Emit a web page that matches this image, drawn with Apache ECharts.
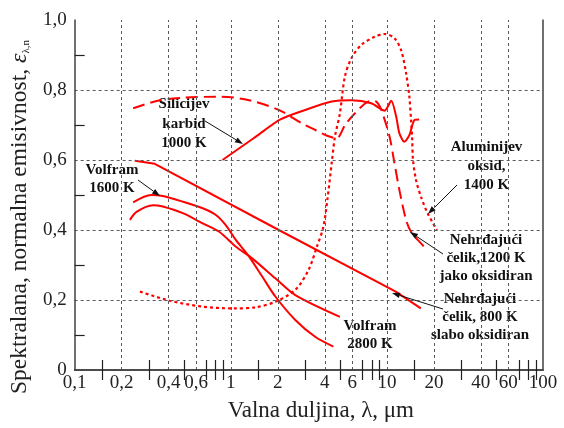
<!DOCTYPE html>
<html>
<head>
<meta charset="utf-8">
<script src="https://cdn.jsdelivr.net/npm/echarts@6/dist/echarts.min.js"></script>
<style>
  html, body { margin: 0; padding: 0; background: #fff; }
  #main { width: 564px; height: 428px; }
</style>
</head>
<body>
<div id="main"></div>
<script>
// valna duljina (um) i emisivnost, ocitano sa slike
var sicLam = [0.885, 1.4, 2.08, 3.0, 4.43, 5.93, 7.95, 9.66, 10.66, 11.47, 12.03, 12.95, 13.93, 14.99, 16.1];
var sicEps = [0.600, 0.662, 0.716, 0.743, 0.767, 0.771, 0.762, 0.741, 0.769, 0.724, 0.676, 0.652, 0.671, 0.714, 0.716];

var alLam = [0.262, 0.406, 0.661, 1.025, 1.44, 1.93, 2.59, 3.15, 3.56, 3.92, 4.18, 4.43, 4.65, 5.0, 5.38, 5.93, 6.87, 8.34, 9.66, 11.18, 12.33, 13.27, 13.93, 14.28, 14.5, 14.7, 15.37, 16.53, 18.23, 20.9];
var alEps = [0.224, 0.198, 0.181, 0.176, 0.179, 0.195, 0.229, 0.286, 0.352, 0.409, 0.495, 0.591, 0.667, 0.733, 0.838, 0.891, 0.929, 0.952, 0.960, 0.948, 0.914, 0.848, 0.781, 0.714, 0.667, 0.600, 0.543, 0.495, 0.448, 0.400];

var st1200Lam = [0.237, 0.351, 0.5, 0.843, 1.31, 2.03, 2.85, 3.5, 4.1, 4.76, 5.4, 6.23, 7.58, 8.34, 8.98, 9.53, 10.4, 11.18, 12.03, 13.27, 14.28, 16.53, 18.23];
var st1200Eps = [0.748, 0.771, 0.778, 0.781, 0.771, 0.743, 0.705, 0.685, 0.670, 0.662, 0.700, 0.733, 0.767, 0.769, 0.754, 0.724, 0.667, 0.591, 0.514, 0.429, 0.395, 0.362, 0.343];

var st800Lam = [0.243, 0.326, 2.03, 11.4, 16.5];
var st800Eps = [0.598, 0.589, 0.400, 0.224, 0.176];

var w1600Lam = [0.237, 0.31, 0.367, 0.493, 0.661, 0.803, 0.929, 1.08, 1.31, 1.59, 1.93, 2.59, 3.47, 4.54];
var w1600Eps = [0.479, 0.500, 0.497, 0.481, 0.462, 0.443, 0.414, 0.371, 0.324, 0.267, 0.210, 0.143, 0.095, 0.067];

var w2800Lam = [0.226, 0.249, 0.318, 0.367, 0.493, 0.661, 0.843, 1.08, 1.37, 1.93, 2.59, 5.0];
var w2800Eps = [0.429, 0.452, 0.471, 0.467, 0.448, 0.419, 0.395, 0.352, 0.319, 0.262, 0.214, 0.152];

// osi
var xLabels = [0.1, 0.2, 0.4, 0.6, 1, 2, 4, 6, 10, 20, 40, 60, 100];
var xMinor = [0.15, 0.3, 0.5, 0.7, 0.8, 0.9, 1.5, 3, 5, 7, 8, 9, 15, 30, 50, 70, 80, 90];
var xGrid = [0.2, 0.4, 0.6, 1, 2, 4, 6, 10, 20, 40, 60];
var yLabels = [0, 0.2, 0.4, 0.6, 0.8, 1.0];
var yMinor = [0.1, 0.3, 0.5, 0.7, 0.9];
var yGrid = [0.2, 0.4, 0.6, 0.8];

function pairs(xs, ys) {
    return xs.map(function (x, i) { return [x, ys[i]]; });
}

var RED = '#ff0000';
var SERIF = '"Liberation Serif", "DejaVu Serif", serif';
var AXC = '#404040';

function label(txt, cx, cy, lh, pad) {
    return {
        type: 'text', x: cx, y: cy, z: 2,
        style: {
            text: txt, fill: '#111',
            font: 'bold 15px ' + SERIF,
            align: 'center', verticalAlign: 'middle',
            lineHeight: lh, backgroundColor: '#fff', padding: pad
        }
    };
}

function arrow(x1, y1, x2, y2) {
    var a = Math.atan2(y2 - y1, x2 - x1), L = 8, W = 2.8;
    var bx = x2 - L * Math.cos(a), by = y2 - L * Math.sin(a);
    return [
        { type: 'line', z: 4, shape: { x1: x1, y1: y1, x2: bx, y2: by }, style: { stroke: '#111', lineWidth: 1 } },
        { type: 'polygon', z: 4, shape: { points: [[x2, y2], [bx - W * Math.sin(a), by + W * Math.cos(a)], [bx + W * Math.sin(a), by - W * Math.cos(a)]] }, style: { fill: '#111' } }
    ];
}

var myChart = echarts.init(document.getElementById('main'));

var xBase = {
    type: 'log', logBase: 10, min: 0.1, max: 100, z: 5,
    axisLine: { show: true, lineStyle: { color: AXC, width: 1.5 } },
    axisTick: { show: true, inside: true, length: 10, customValues: xMinor, lineStyle: { color: '#222', width: 1.2 } },
    minorTick: { show: false },
    splitLine: { show: false }
};

var option = {
    animation: false,
    backgroundColor: '#fff',
    grid: { left: 71, right: 21, top: 20, bottom: 58, containLabel: false },
    xAxis: [
        Object.assign({}, xBase, {
            position: 'bottom',
            name: 'Valna duljina, λ, μm',
            nameLocation: 'middle', nameGap: 29,
            nameTextStyle: { fontFamily: SERIF, fontSize: 23, color: '#222', padding: [0, 0, 0, 24] },
            axisLabel: {
                customValues: xLabels, margin: 4,
                fontFamily: SERIF, fontSize: 19, color: '#222',
                formatter: function (v) { return String(+(+v).toPrecision(3)).replace('.', ','); }
            }
        }),
        Object.assign({}, xBase, { position: 'top', axisLabel: { show: false } })
    ],
    yAxis: [
        {
            type: 'value', min: 0, max: 1, position: 'left', z: 5,
            name: '{a|Spektralana, normalna emisivnost, }{e|ε}{s|λ,n}',
            nameLocation: 'middle', nameGap: 36, nameRotate: 90,
            nameTextStyle: {
                color: '#222', padding: [0, 44, 0, 0],
                rich: {
                    a: { fontFamily: SERIF, fontSize: 23.5, color: '#222' },
                    e: { fontFamily: SERIF, fontSize: 24, fontStyle: 'italic', color: '#222' },
                    s: { fontFamily: SERIF, fontSize: 11, color: '#222', verticalAlign: 'bottom', padding: [12, 0, 0, 0] }
                }
            },
            axisLine: { show: true, lineStyle: { color: AXC, width: 1.5 } },
            axisTick: { show: true, inside: true, length: 10, customValues: yMinor, lineStyle: { color: '#222', width: 1.2 } },
            axisLabel: {
                customValues: yLabels, margin: 8,
                fontFamily: SERIF, fontSize: 19, color: '#222',
                formatter: function (v) { return v === 0 ? '0' : (+v).toFixed(1).replace('.', ','); }
            },
            splitLine: { show: false }
        },
        {
            type: 'value', min: 0, max: 1, position: 'right', z: 5,
            axisLine: { show: true, lineStyle: { color: AXC, width: 1.5 } },
            axisTick: { show: false }, axisLabel: { show: false }, splitLine: { show: false }
        }
    ],
    series: [
        {
            // isprekidana mreza
            type: 'line', data: [], z: 1, silent: true,
            markLine: {
                silent: true, symbol: ['none', 'none'], label: { show: false },
                lineStyle: { type: [3, 3], color: '#5a5a5a', width: 1 },
                data: xGrid.map(function (v) { return { xAxis: v }; })
                    .concat(yGrid.map(function (v) { return { yAxis: v }; }))
            }
        },
        { name: 'Silicijev karbid 1000 K', type: 'line', z: 3, symbol: 'none', smooth: 0.25,
          lineStyle: { color: RED, width: 2 }, data: pairs(sicLam, sicEps) },
        { name: 'Aluminijev oksid 1400 K', type: 'line', z: 3, symbol: 'none', smooth: 0.3,
          lineStyle: { color: RED, width: 2.2, type: [3, 3] }, data: pairs(alLam, alEps) },
        { name: 'Nehrđajući čelik 1200 K', type: 'line', z: 3, symbol: 'none', smooth: 0.3,
          lineStyle: { color: RED, width: 2, type: [12, 6] }, data: pairs(st1200Lam, st1200Eps) },
        { name: 'Nehrđajući čelik 800 K', type: 'line', z: 3, symbol: 'none',
          lineStyle: { color: RED, width: 2 }, data: pairs(st800Lam, st800Eps) },
        { name: 'Volfram 1600 K', type: 'line', z: 3, symbol: 'none', smooth: 0.3,
          lineStyle: { color: RED, width: 2 }, data: pairs(w1600Lam, w1600Eps) },
        { name: 'Volfram 2800 K', type: 'line', z: 3, symbol: 'none', smooth: 0.3,
          lineStyle: { color: RED, width: 2 }, data: pairs(w2800Lam, w2800Eps) }
    ],
    graphic: [
        label('Silicijev\nkarbid\n1000 K', 184, 124, 19.5, [0, 4]),
        label('Volfram\n1600 K', 112, 179, 18, [0, 4]),
        label('Aluminijev\noksid,\n1400 K', 486, 166, 19, [3, 21, 3, 22]),
        label('Nehrđajući\nčelik,1200 K\njako oksidiran', 486, 258, 18, [0, 12]),
        label('Nehrđajući\nčelik, 800 K\nslabo oksidiran', 480, 317, 18, [0, 4]),
        label('Volfram\n2800 K', 370, 335, 17.6, [2, 4])
    ].concat(
        arrow(205, 121, 243, 144),
        arrow(138, 180, 160, 196),
        arrow(457, 185, 428, 214),
        arrow(443, 254, 410, 232),
        arrow(443, 309, 392, 293)
    )
};

myChart.setOption(option);
</script>
</body>
</html>
